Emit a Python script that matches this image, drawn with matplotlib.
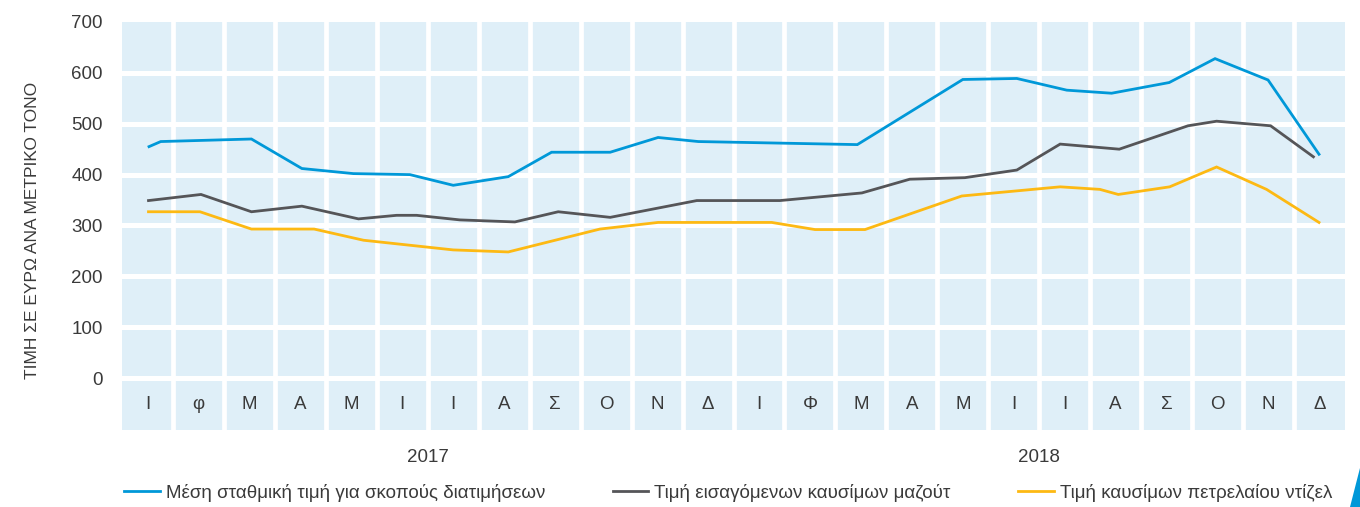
import matplotlib
matplotlib.use("Agg")
import matplotlib.pyplot as plt
from matplotlib.patches import Polygon
import matplotlib.transforms as mtransforms

plt.rcParams['font.family'] = ['Liberation Sans', 'DejaVu Sans']

# ---- data (x in month units: month i spans [i, i+1], Jan 2017 = 0) ----
months = ["Ι", "φ", "Μ", "Α", "Μ", "Ι", "Ι", "Α", "Σ", "Ο", "Ν", "Δ",
          "Ι", "Φ", "Μ", "Α", "Μ", "Ι", "Ι", "Α", "Σ", "Ο", "Ν", "Δ"]
years = ["2017", "2018"]
yticks = [0, 100, 200, 300, 400, 500, 600, 700]

avg_x = [0.53, 0.76, 2.54, 3.53, 4.54, 5.65, 6.50, 7.58, 8.43, 9.58, 10.52,
         11.31, 14.43, 16.50, 17.56, 18.54, 19.42, 20.55, 21.45, 22.49, 23.49]
avg_y = [455, 465, 470, 412, 402, 400, 379, 396, 444, 444, 473,
         465, 459, 587, 589, 566, 560, 581, 628, 586, 440]

fuel_x = [0.52, 1.55, 2.54, 3.53, 4.64, 5.39, 5.78, 6.63, 7.71, 8.56, 9.58,
          11.28, 12.91, 14.52, 15.46, 16.54, 17.56, 18.41, 19.57, 20.92,
          21.48, 22.54, 23.38]
fuel_y = [349, 361, 327, 338, 313, 320, 320, 311, 307, 327, 316,
          349, 349, 364, 391, 394, 409, 460, 450, 496,
          505, 496, 435]

diesel_x = [0.52, 1.53, 2.54, 3.77, 4.74, 6.50, 7.58, 9.38, 10.52, 12.75,
            13.60, 14.58, 16.48, 18.41, 19.19, 19.55, 20.56, 21.48, 22.46, 23.49]
diesel_y = [327, 327, 293, 293, 271, 252, 248, 293, 306, 306,
            292, 292, 358, 376, 371, 361, 376, 415, 371, 306]

labels = ["Μέση σταθμική τιμή για σκοπούς διατιμήσεων",
          "Τιμή εισαγόμενων καυσίμων μαζούτ",
          "Τιμή καυσίμων πετρελαίου ντίζελ"]
colors = ["#0098d8", "#555558", "#fdb913"]

# ---- figure ----
W, H = 1360, 507
fig = plt.figure(figsize=(W / 100, H / 100), dpi=100)
ax = fig.add_axes([122 / W, 1 - 430 / H, (1345 - 122) / W, (430 - 22) / H])
ax.set_facecolor("#dfeff8")
for s in ax.spines.values():
    s.set_visible(False)

ax.set_xlim(0, len(months))
ax.set_ylim(-102, 700)

# white grid
for v in yticks[:-1]:
    ax.axhline(v, color="white", lw=3.6, zorder=1)
for i in range(1, len(months)):
    ax.axvline(i, color="white", lw=3.4, zorder=1)

tc = "#3a3a3a"
ax.set_yticks(yticks)
ax.set_yticklabels([str(v) for v in yticks])
ax.tick_params(axis="y", length=0, pad=14, labelsize=13.5, labelcolor=tc)
ax.set_xticks([])

# month labels in the bottom band
for i, m in enumerate(months):
    ax.text(i + 0.5, -52, m, ha="center", va="center", fontsize=13.5, color=tc)

# year labels
trans = mtransforms.blended_transform_factory(ax.transData, ax.transAxes)
for k, yr in enumerate(years):
    ax.text(6 + 12 * k, -28 / 408, yr, transform=trans, ha="center",
            va="center", fontsize=13.5, color=tc)

# series
lines = []
for xs, ys, c, lab in [(avg_x, avg_y, colors[0], labels[0]),
                       (fuel_x, fuel_y, colors[1], labels[1]),
                       (diesel_x, diesel_y, colors[2], labels[2])]:
    ln, = ax.plot(xs, ys, color=c, lw=2.0, zorder=3, label=lab,
                  solid_joinstyle="miter")
    lines.append(ln)

fig.text(33 / W, 1 - 230 / H, "ΤΙΜΗ ΣΕ ΕΥΡΩ ΑΝΑ ΜΕΤΡΙΚΟ ΤΟΝΟ", rotation=90,
         ha="center", va="center", fontsize=12.5, color=tc)

fig.legend(handles=lines, loc="center left",
           bbox_to_anchor=(124 / W, 1 - 493 / H), ncol=3, frameon=False,
           fontsize=13.5, handlelength=1.9, handletextpad=0.33,
           columnspacing=3.6, borderpad=0, borderaxespad=0,
           labelcolor=tc)

# decorative corner triangle
fig.patches.append(Polygon([(1350 / W, 0), (1.0, 1 - 468 / H), (1.0, 0)],
                           closed=True, transform=fig.transFigure,
                           facecolor="#0098d8", edgecolor="none"))

fig.savefig("out.png", dpi=100)
